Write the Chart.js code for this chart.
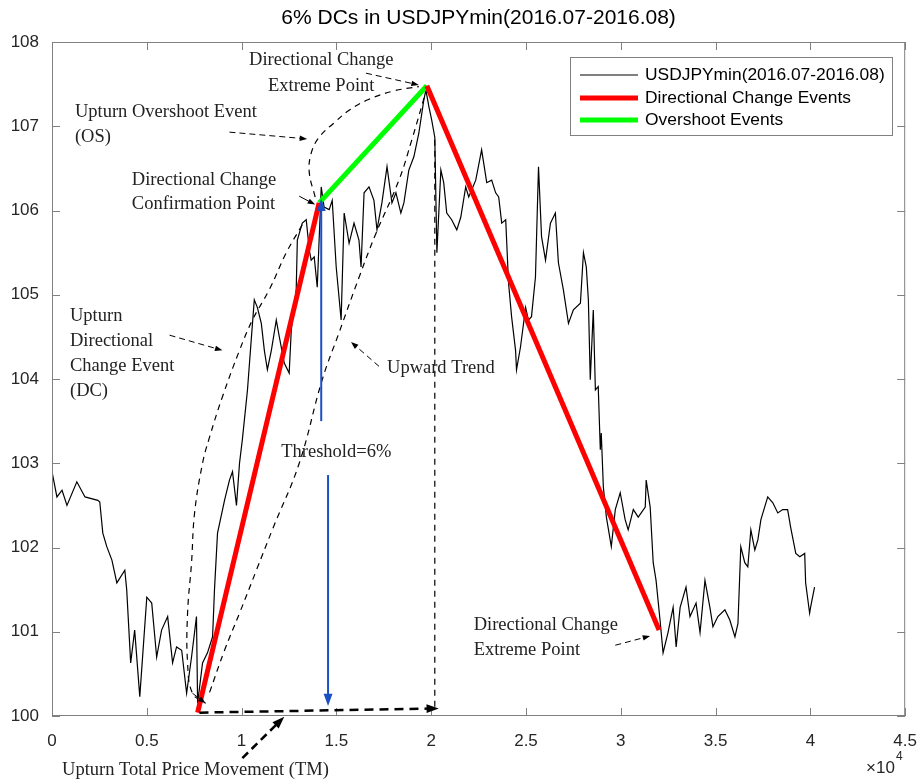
<!DOCTYPE html>
<html>
<head>
<meta charset="utf-8">
<script src="https://cdn.jsdelivr.net/npm/chart.js@4.4.1/dist/chart.umd.min.js"></script>
<style>
  body { margin: 0; background: #fff; }
  canvas { display: block; }
</style>
</head>
<body>
<canvas id="dcChart" width="924" height="780"></canvas>
<script>
// USDJPY minute prices (index, price)
var priceX = [0, 260, 530, 790, 1310, 1740, 2420, 2520, 2680, 2890, 3160, 3420, 3840, 3940, 4150, 4360, 4630, 5000, 5260, 5520,
  5780, 6100, 6360, 6570, 6840, 7100, 7360, 7620, 7680, 7940, 8200, 8470, 8570, 8730, 9100, 9360, 9520, 9730, 9890, 10040,
  10310, 10520, 10670, 10830, 11040, 11200, 11360, 11570, 11830, 11990, 12250, 12510, 12620, 12880, 12940, 13200, 13410, 13570, 13670, 13830,
  13990, 14200, 14350, 14620, 14780, 14990, 15250, 15410, 15670, 15930, 16190, 16300, 16460, 16720, 16980, 17140, 17400, 17670, 17930, 18140,
  18400, 18560, 18820, 19090, 19350, 19610, 19720, 19880, 20030, 20190, 20300, 20510, 20660, 20820, 21080, 21350, 21560, 21820, 21980, 22350,
  22660, 22930, 23190, 23400, 23560, 23720, 23930, 24080, 24240, 24450, 24500, 24710, 24980, 25130, 25290, 25500, 25660, 25820, 26030, 26290,
  26550, 26710, 26970, 27240, 27500, 27870, 28030, 28180, 28290, 28390, 28550, 28660, 28810, 28920, 28970, 29080, 29240, 29500, 29710, 29970,
  30230, 30390, 30660, 30920, 31290, 31340, 31550, 31710, 31860, 32070, 32230, 32490, 32760, 32920, 33130, 33440, 33650, 33970, 34180, 34440,
  34700, 34860, 35120, 35490, 35750, 36020, 36180, 36330, 36540, 36700, 36860, 37070, 37230, 37390, 37750, 38020, 38280, 38540, 38800, 38960,
  39230, 39440, 39700, 39750, 39960, 40010, 40220];
var priceY = [102.90, 102.60, 102.68, 102.50, 102.78, 102.60, 102.56, 102.54, 102.17, 102.01, 101.85, 101.58, 101.73, 101.50, 100.63, 101.02, 100.23, 101.41, 101.34, 100.70,
  101.02, 101.18, 100.63, 100.82, 100.78, 100.27, 100.70, 101.18, 100.15, 100.63, 100.75, 100.94, 101.50, 102.17, 102.56, 102.80, 102.90, 102.50, 103.00, 103.28,
  103.87, 104.50, 104.94, 104.85, 104.66, 104.34, 104.11, 104.34, 104.70, 104.50, 104.19, 104.07, 104.58, 105.06, 105.65, 105.85, 105.89, 105.53, 105.41, 105.45,
  105.09, 106.28, 106.04, 106.01, 106.12, 105.33, 104.70, 105.97, 105.61, 105.85, 105.65, 105.33, 106.21, 106.28, 106.12, 105.77, 106.09, 106.52, 106.09, 106.21,
  105.97, 106.09, 106.48, 106.64, 106.92, 107.31, 107.43, 107.23, 107.07, 106.87, 105.50, 106.48, 106.33, 105.97, 105.89, 105.77, 105.92, 106.28, 106.16, 106.36,
  106.72, 106.33, 106.36, 106.21, 106.16, 105.85, 105.89, 105.14, 104.74, 104.34, 104.11, 104.38, 104.85, 104.70, 104.74, 105.21, 106.52, 105.69, 105.41, 105.85,
  105.97, 105.38, 105.06, 104.66, 104.82, 104.90, 105.50, 105.33, 104.94, 103.99, 104.82, 103.87, 103.91, 103.16, 103.36, 102.72, 102.36, 102.01, 102.45, 102.65,
  102.33, 102.21, 102.45, 102.36, 102.48, 102.80, 102.48, 101.82, 101.61, 101.14, 100.75, 100.99, 101.29, 100.82, 101.29, 101.53, 101.18, 101.34, 100.99, 101.61,
  101.29, 101.06, 101.18, 101.26, 101.14, 100.94, 101.10, 102.01, 101.82, 101.77, 102.21, 101.97, 102.09, 102.33, 102.60, 102.53, 102.41, 102.45, 102.45, 102.24,
  101.93, 101.89, 101.93, 101.58, 101.22, 101.29, 101.53];

// directional change and overshoot segments
var dcUpX = [7680, 14090], dcUpY = [100.04, 106.09];
var osX = [14090, 19770], osY = [106.09, 107.48];
var dcDownX = [19770, 32020], dcDownY = [107.48, 101.02];

// axis ticks
var xTicks = [0, 5000, 10000, 15000, 20000, 25000, 30000, 35000, 40000, 45000];
var yTicks = [100, 101, 102, 103, 104, 105, 106, 107, 108];

// dashed sketch curves
var curveAX = [13200, 12360, 11460, 10570, 9890, 8990, 8310, 7940, 7520, 7360, 7150, 7150, 7410, 8100];
var curveAY = [105.83, 105.50, 105.06, 104.70, 104.34, 103.79, 103.31, 103.00, 102.41, 101.82, 101.22, 100.63, 100.27, 100.15];
var curveBX = [8310, 9100, 9890, 10780, 11620, 13040, 14250, 15140, 16200, 17090, 18300, 18980, 19720];
var curveBY = [100.28, 100.78, 101.22, 101.73, 102.21, 103.00, 103.99, 104.55, 105.21, 105.73, 106.36, 106.84, 107.41];
var curveCX = [13880, 13570, 13670, 14090, 14880, 15670, 16720, 18040, 19350];
var curveCY = [106.16, 106.45, 106.68, 106.87, 107.04, 107.19, 107.32, 107.42, 107.47];
var vLineX = [20190, 20190], vLineY = [106.84, 100.09];

function pts(xs, ys) {
    return xs.map(function (x, i) { return { x: x, y: ys[i] }; });
}

// arrows: [x1, y1, x2, y2, colour, width, dashed]
var arrows = [
    [7780, 100.04, 20400, 100.09, '#000', 2.5, [9, 6]],     // TM
    [14200, 103.50, 14200, 106.14, '#1b4fc4', 2, null],     // threshold up
    [14560, 102.86, 14560, 100.12, '#1b4fc4', 2, null],     // threshold down
    [16560, 107.63, 19350, 107.49, '#000', 1, [6, 4]],
    [9360, 106.93, 13460, 106.85, '#000', 1, [6, 4]],
    [13040, 106.17, 13880, 106.07, '#000', 1, null],
    [6200, 104.52, 8990, 104.34, '#000', 1, [6, 4]],
    [17250, 104.15, 15770, 104.44, '#000', 1, [6, 4]],
    [29710, 100.84, 31550, 100.95, '#000', 1, [6, 4]],
    [10040, 99.50, 12250, 99.99, '#000', 2.5, [8, 5]]
];

// text notes: [text, x, y, align]
var notes = [
    ['Directional Change', 14200, 107.79, 'center'],
    ['Extreme Point', 14200, 107.48, 'center'],
    ['Upturn Overshoot Event', 1210, 107.17, 'left'],
    ['(OS)', 1210, 106.87, 'left'],
    ['Directional Change', 4210, 106.36, 'left'],
    ['Confirmation Point', 4210, 106.07, 'left'],
    ['Upturn', 950, 104.75, 'left'],
    ['Directional', 950, 104.45, 'left'],
    ['Change Event', 950, 104.15, 'left'],
    ['(DC)', 950, 103.86, 'left'],
    ['Upward Trend', 17670, 104.13, 'left'],
    ['Threshold=6%', 12090, 103.13, 'left'],
    ['Directional Change', 22240, 101.08, 'left'],
    ['Extreme Point', 22240, 100.78, 'left'],
    ['Upturn Total Price Movement (TM)', 530, 99.36, 'left']
];

function drawArrow(c, x1, y1, x2, y2, col, w, dash) {
    var ang = Math.atan2(y2 - y1, x2 - x1);
    var head = w > 1.5 ? 13 : 8;
    c.save();
    c.strokeStyle = col;
    c.fillStyle = col;
    c.lineWidth = w;
    c.setLineDash(dash || []);
    c.beginPath();
    c.moveTo(x1, y1);
    c.lineTo(x2 - Math.cos(ang) * head * 0.8, y2 - Math.sin(ang) * head * 0.8);
    c.stroke();
    c.setLineDash([]);
    c.beginPath();
    c.moveTo(x2, y2);
    c.lineTo(x2 - head * Math.cos(ang - 0.35), y2 - head * Math.sin(ang - 0.35));
    c.lineTo(x2 - head * Math.cos(ang + 0.35), y2 - head * Math.sin(ang + 0.35));
    c.closePath();
    c.fill();
    c.restore();
}

var extras = {
    id: 'extras',
    afterDraw: function (chart) {
        var c = chart.ctx, xs = chart.scales.x, ys = chart.scales.y, a = chart.chartArea;
        // box and inward ticks
        c.save();
        c.strokeStyle = '#808080';
        c.lineWidth = 1;
        c.strokeRect(a.left + 0.5, a.top + 0.5, a.right - a.left - 1, a.bottom - a.top - 1);
        c.beginPath();
        xTicks.forEach(function (v) {
            var p = Math.round(xs.getPixelForValue(v)) + 0.5;
            c.moveTo(p, a.bottom); c.lineTo(p, a.bottom - 8);
            c.moveTo(p, a.top); c.lineTo(p, a.top + 8);
        });
        yTicks.forEach(function (v) {
            var p = Math.round(ys.getPixelForValue(v)) + 0.5;
            c.moveTo(a.left, p); c.lineTo(a.left + 8, p);
            c.moveTo(a.right, p); c.lineTo(a.right - 8, p);
        });
        c.stroke();

        // title
        c.fillStyle = '#000';
        c.font = '21px "Liberation Sans", Arial, sans-serif';
        c.textAlign = 'center';
        c.textBaseline = 'middle';
        c.fillText('6% DCs in USDJPYmin(2016.07-2016.08)', (a.left + a.right) / 2, 18);

        // exponent
        c.fillStyle = '#262626';
        c.font = '17px "Liberation Sans", Arial, sans-serif';
        c.textAlign = 'left';
        c.fillText('\u00d710', 866, 768);
        c.font = '12px "Liberation Sans", Arial, sans-serif';
        c.fillText('4', 896, 757);
        c.restore();

        // arrows
        arrows.forEach(function (r) {
            drawArrow(c, xs.getPixelForValue(r[0]), ys.getPixelForValue(r[1]),
                xs.getPixelForValue(r[2]), ys.getPixelForValue(r[3]), r[4], r[5], r[6]);
        });
        // arrowhead at end of curve A
        var n = curveAX.length;
        drawArrow(c, xs.getPixelForValue(curveAX[n - 2]), ys.getPixelForValue(curveAY[n - 2]),
            xs.getPixelForValue(curveAX[n - 1]), ys.getPixelForValue(curveAY[n - 1]), '#000', 1, []);

        // notes
        c.save();
        c.fillStyle = '#222';
        c.font = '18.5px "Liberation Serif", "Times New Roman", serif';
        c.textBaseline = 'middle';
        notes.forEach(function (t) {
            c.textAlign = t[3];
            c.fillText(t[0], xs.getPixelForValue(t[1]), ys.getPixelForValue(t[2]));
        });
        c.restore();

        // legend
        c.save();
        c.fillStyle = '#fff';
        c.fillRect(570, 57, 322, 78);
        c.strokeStyle = '#808080';
        c.lineWidth = 1;
        c.strokeRect(570.5, 57.5, 322, 78);
        var rows = [['USDJPYmin(2016.07-2016.08)', '#000', 1, 75],
            ['Directional Change Events', '#ff0000', 5, 98],
            ['Overshoot Events', '#00ff00', 5, 120]];
        c.font = '17.4px "Liberation Sans", Arial, sans-serif';
        c.textBaseline = 'middle';
        c.textAlign = 'left';
        rows.forEach(function (r) {
            c.strokeStyle = r[1];
            c.lineWidth = r[2];
            c.beginPath();
            c.moveTo(580, r[3]); c.lineTo(638, r[3]);
            c.stroke();
            c.fillStyle = '#000';
            c.fillText(r[0], 645, r[3]);
        });
        c.restore();
    }
};

var dashed = { borderColor: '#000', borderWidth: 1.2, borderDash: [6, 5], pointRadius: 0, tension: 0.4, order: 5 };

var ctx = document.getElementById('dcChart').getContext('2d');
new Chart(ctx, {
    type: 'line',
    data: {
        datasets: [
            { label: 'USDJPYmin(2016.07-2016.08)', data: pts(priceX, priceY), borderColor: '#000', borderWidth: 1.2, pointRadius: 0, tension: 0, order: 10 },
            { label: 'Directional Change Events', data: pts(dcUpX, dcUpY), borderColor: '#ff0000', borderWidth: 5, pointRadius: 0, order: 1 },
            { label: 'Directional Change Events', data: pts(dcDownX, dcDownY), borderColor: '#ff0000', borderWidth: 5, pointRadius: 0, order: 1 },
            { label: 'Overshoot Events', data: pts(osX, osY), borderColor: '#00ff00', borderWidth: 5, pointRadius: 0, order: 1 },
            Object.assign({ label: 'a', data: pts(curveAX, curveAY) }, dashed),
            Object.assign({ label: 'b', data: pts(curveBX, curveBY) }, dashed),
            Object.assign({ label: 'c', data: pts(curveCX, curveCY) }, dashed),
            Object.assign({ label: 'v', data: pts(vLineX, vLineY) }, dashed, { tension: 0 })
        ]
    },
    options: {
        responsive: false,
        animation: false,
        layout: { padding: { left: 0, right: 1, top: 42, bottom: 0 } },
        plugins: { legend: { display: false }, tooltip: { enabled: false } },
        scales: {
            x: {
                type: 'linear', min: 0, max: 45000,
                afterBuildTicks: function (s) { s.ticks = xTicks.map(function (v) { return { value: v }; }); },
                ticks: { color: '#262626', font: { size: 17, family: '"Liberation Sans", Arial' }, padding: 7, maxRotation: 0,
                    callback: function (v) { return v / 10000; } },
                grid: { display: false }, border: { display: false },
                afterFit: function (s) { s.height = 64; }
            },
            y: {
                min: 100, max: 108,
                afterBuildTicks: function (s) { s.ticks = yTicks.map(function (v) { return { value: v }; }); },
                ticks: { color: '#262626', font: { size: 17, family: '"Liberation Sans", Arial' }, padding: 5 },
                grid: { display: false }, border: { display: false },
                afterFit: function (s) { s.width = 52; }
            }
        }
    },
    plugins: [extras]
});
</script>
</body>
</html>
